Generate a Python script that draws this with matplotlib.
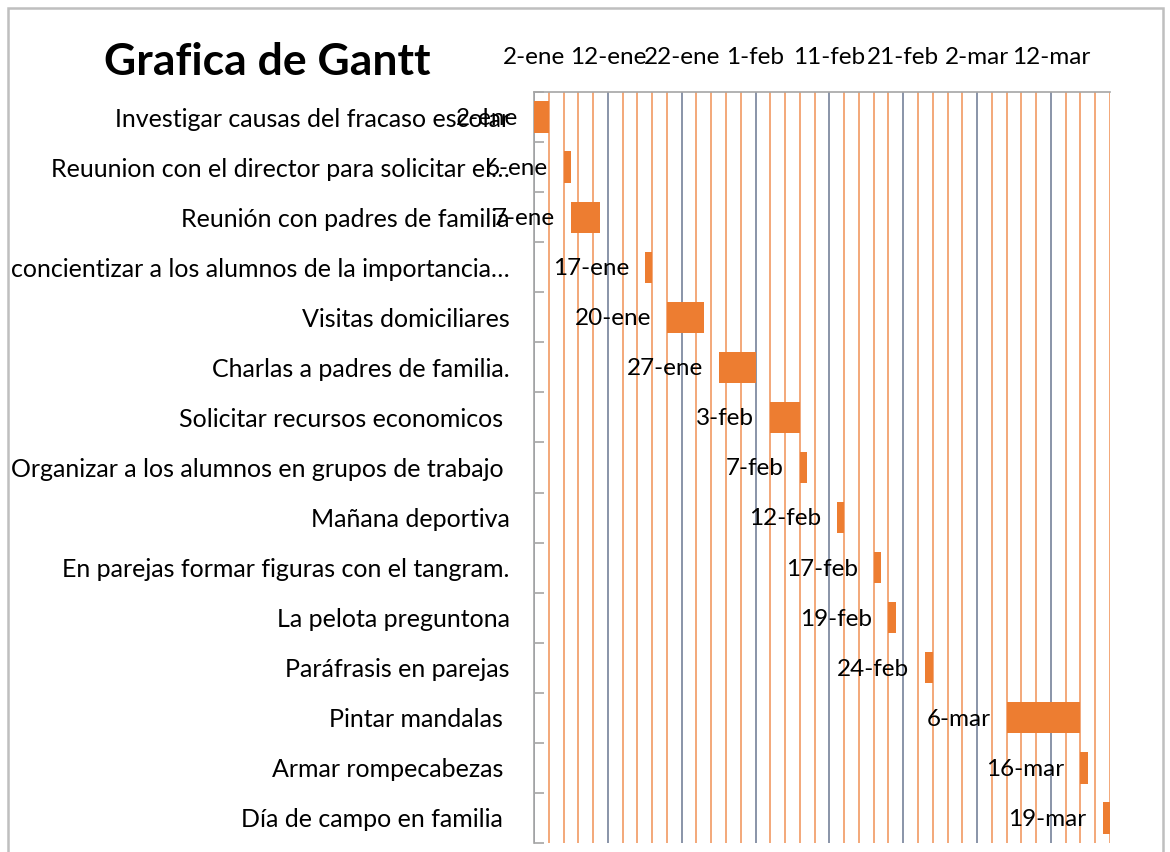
import matplotlib
matplotlib.use('Agg')
import matplotlib.pyplot as plt
import matplotlib.dates as mdates
import matplotlib.ticker as mticker
from matplotlib.patches import Rectangle
import numpy as np

plt.rcParams['font.family'] = ['Lato', 'DejaVu Sans']

tasks = ['Investigar causas del fracaso escolar',
         'Reuunion con el director para solicitar el…',
         'Reunión con padres de familia',
         'concientizar a los alumnos de la importancia…',
         'Visitas domiciliares',
         'Charlas a padres de familia.',
         'Solicitar recursos economicos ',
         'Organizar a los alumnos en grupos de trabajo ',
         'Mañana deportiva',
         'En parejas formar figuras con el tangram.',
         'La pelota preguntona',
         'Paráfrasis en parejas',
         'Pintar mandalas ',
         'Armar rompecabezas ',
         'Día de campo en familia ']
starts = ['2020-01-02', '2020-01-06', '2020-01-07', '2020-01-17', '2020-01-20',
          '2020-01-27', '2020-02-03', '2020-02-07', '2020-02-12', '2020-02-17',
          '2020-02-19', '2020-02-24', '2020-03-06', '2020-03-16', '2020-03-19']
durations = [2, 1, 4, 1, 5, 5, 4, 1, 1, 1, 1, 1, 10, 1, 1]
meses = ['ene', 'feb', 'mar', 'abr', 'may', 'jun', 'jul', 'ago', 'sep', 'oct', 'nov', 'dic']
axis_start = '2020-01-02'
axis_end = '2020-03-20'

def fecha(n):
    d = mdates.num2date(n)
    return f'{d.day}-{meses[d.month-1]}'

x0 = mdates.datestr2num(axis_start)
x1 = mdates.datestr2num(axis_end)
s = mdates.datestr2num(starts)

fig = plt.figure(figsize=(11.7, 8.52), dpi=100)
ax = fig.add_axes([534/1170, 1-843/852, (1110-534)/1170, (843-92)/852])

y = np.arange(len(tasks))
ax.barh(y, durations, left=s, height=0.625, color='#ED7D31', zorder=3)
for yi, si in zip(y, s):
    ax.annotate(fecha(si), (si, yi), xytext=(-11.5, -1), textcoords='offset points',
                ha='right', va='center', fontsize=17.5, color='black', zorder=4)

ax.set_xlim(x0, x1)
ax.set_ylim(len(tasks)-0.5, -0.5)
ax.xaxis.set_major_locator(mticker.FixedLocator(np.arange(x0, x1, 10)))
ax.xaxis.set_minor_locator(mticker.FixedLocator(np.arange(x0, x1 + 1, 2)))
ax.xaxis.set_major_formatter(mticker.FuncFormatter(lambda v, p: fecha(v)))
ax.xaxis.tick_top()
ax.tick_params(axis='x', which='both', length=0, labelsize=17.5, pad=17)
ax.grid(True, axis='x', which='minor', color='#F19A62', lw=1.2, zorder=1)
ax.grid(True, axis='x', which='major', color='#76829A', lw=1.2, zorder=2)

ax.set_yticks(y)
ax.set_yticklabels(tasks)
ax.yaxis.set_minor_locator(mticker.FixedLocator(np.arange(-0.5, len(tasks), 1)))
ax.tick_params(axis='y', which='major', length=0, labelsize=18, pad=17.5)
ax.tick_params(axis='y', which='minor', length=7, direction='in', color='#A6A6A6', width=1.2)

for sp in ['right', 'bottom']:
    ax.spines[sp].set_visible(False)
for sp in ['left', 'top']:
    ax.spines[sp].set_color('#A6A6A6')
    ax.spines[sp].set_linewidth(1.2)

fig.text(267/1170, 1-62/852, 'Grafica de Gantt', ha='center', va='center',
         fontsize=32, fontweight='bold')
fig.patches.append(Rectangle((8/1170, -0.1), (1163-8)/1170, 1.1-8/852,
                             transform=fig.transFigure, fill=False,
                             edgecolor='#BFBFBF', lw=1.8))

fig.savefig('out.png', dpi=100)
